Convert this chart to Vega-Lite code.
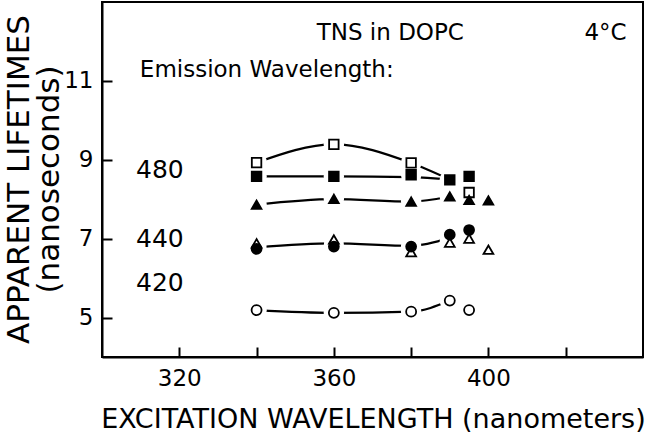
{
  "$schema": "https://vega.github.io/schema/vega-lite/v6.json",
  "width": 541,
  "height": 355,
  "autosize": {"type": "none"},
  "padding": {"left": 102, "top": 2, "right": 5, "bottom": 79},
  "background": "white",
  "config": {
    "font": "DejaVu Sans",
    "view": {"stroke": "black", "strokeWidth": 2}
  },
  "datasets": {
    "pts": [
      {"series": "sq_open", "x": 340, "y": 8.93},
      {"series": "sq_open", "x": 360, "y": 9.39},
      {"series": "sq_open", "x": 380, "y": 8.92},
      {"series": "sq_open", "x": 395, "y": 8.17},
      {"series": "sq_filled", "x": 340, "y": 8.58},
      {"series": "sq_filled", "x": 360, "y": 8.58},
      {"series": "sq_filled", "x": 380, "y": 8.62},
      {"series": "sq_filled", "x": 390, "y": 8.49},
      {"series": "sq_filled", "x": 395, "y": 8.58},
      {"series": "tri_filled", "x": 340, "y": 7.86},
      {"series": "tri_filled", "x": 360, "y": 8.01},
      {"series": "tri_filled", "x": 380, "y": 7.94},
      {"series": "tri_filled", "x": 390, "y": 8.07},
      {"series": "tri_filled", "x": 395, "y": 7.98},
      {"series": "tri_filled", "x": 400, "y": 7.97},
      {"series": "tri_open", "x": 340, "y": 6.88},
      {"series": "tri_open", "x": 360, "y": 6.98},
      {"series": "tri_open", "x": 380, "y": 6.66},
      {"series": "tri_open", "x": 390, "y": 6.9},
      {"series": "tri_open", "x": 395, "y": 7.0},
      {"series": "tri_open", "x": 400, "y": 6.72},
      {"series": "circ_filled", "x": 340, "y": 6.74},
      {"series": "circ_filled", "x": 360, "y": 6.8},
      {"series": "circ_filled", "x": 380, "y": 6.8},
      {"series": "circ_filled", "x": 390, "y": 7.1},
      {"series": "circ_filled", "x": 395, "y": 7.22},
      {"series": "circ_open", "x": 340, "y": 5.19},
      {"series": "circ_open", "x": 360, "y": 5.12},
      {"series": "circ_open", "x": 380, "y": 5.15},
      {"series": "circ_open", "x": 390, "y": 5.43},
      {"series": "circ_open", "x": 395, "y": 5.19}
    ],
    "curves": [
      {"series": "sq_open", "x": 340, "y": 8.93},
      {"series": "sq_open", "x": 360, "y": 9.39},
      {"series": "sq_open", "x": 380, "y": 8.92},
      {"series": "sq_open", "x": 390, "y": 8.5},
      {"series": "sq_filled", "x": 340, "y": 8.58},
      {"series": "sq_filled", "x": 360, "y": 8.58},
      {"series": "sq_filled", "x": 380, "y": 8.56},
      {"series": "sq_filled", "x": 390, "y": 8.5},
      {"series": "tri_filled", "x": 340, "y": 7.86},
      {"series": "tri_filled", "x": 360, "y": 8.0},
      {"series": "tri_filled", "x": 380, "y": 7.94},
      {"series": "tri_filled", "x": 390, "y": 8.07},
      {"series": "circ_filled", "x": 340, "y": 6.78},
      {"series": "circ_filled", "x": 360, "y": 6.88},
      {"series": "circ_filled", "x": 380, "y": 6.82},
      {"series": "circ_filled", "x": 390, "y": 7.02},
      {"series": "circ_open", "x": 340, "y": 5.19},
      {"series": "circ_open", "x": 360, "y": 5.12},
      {"series": "circ_open", "x": 380, "y": 5.15},
      {"series": "circ_open", "x": 390, "y": 5.43}
    ]
  },
  "encoding": {
    "x": {
      "field": "x",
      "type": "quantitative",
      "scale": {"domain": [300, 440], "nice": false, "zero": false},
      "axis": {
        "title": "EXCITATION WAVELENGTH (nanometers)",
        "values": [320, 340, 360, 380, 400, 420],
        "format": "d",
        "labelExpr": "datum.value % 40 == 0 ? datum.label : ''",
        "grid": false,
        "domainColor": "black",
        "domainWidth": 2,
        "tickColor": "black",
        "tickWidth": 2,
        "tickSize": -10,
        "labelFontSize": 23,
        "labelColor": "black",
        "labelPadding": 20,
        "labelFlush": false,
        "labelOverlap": false,
        "titleFontSize": 27,
        "titleFontWeight": "normal",
        "titleColor": "black",
        "titleBaseline": "middle",
        "titleY": 62,
        "titleX": 271
      }
    },
    "y": {
      "field": "y",
      "type": "quantitative",
      "scale": {"domain": [4, 13], "nice": false, "zero": false},
      "axis": {
        "title": ["APPARENT LIFETIMES", "(nanoseconds)"],
        "values": [5, 7, 9, 11],
        "format": "d",
        "grid": false,
        "domainColor": "black",
        "domainWidth": 2,
        "tickColor": "black",
        "tickWidth": 2,
        "tickSize": -10,
        "labelFontSize": 23,
        "labelColor": "black",
        "labelPadding": 19,
        "labelFlush": false,
        "labelOverlap": false,
        "titleFontSize": 31,
        "titleFontWeight": "normal",
        "titleColor": "black",
        "titleAngle": 270,
        "titleAlign": "center",
        "titleBaseline": "middle",
        "titleLineHeight": 30,
        "titleX": -83,
        "titleY": 177
      }
    }
  },
  "layer": [
    {
      "data": {"name": "curves"},
      "mark": {"type": "line", "interpolate": "monotone", "color": "black", "strokeWidth": 2.2},
      "encoding": {"detail": {"field": "series"}}
    },
    {
      "data": {"name": "pts"},
      "mark": {"type": "point", "shape": "circle", "filled": true, "color": "white", "size": 420, "opacity": 1}
    },
    {
      "data": {"name": "pts"},
      "mark": {"type": "point", "filled": true, "stroke": "black", "strokeWidth": 1.8, "opacity": 1},
      "encoding": {
        "shape": {
          "field": "series",
          "scale": {
            "domain": ["sq_open", "sq_filled", "tri_filled", "tri_open", "circ_filled", "circ_open"],
            "range": ["square", "square", "triangle-up", "triangle-up", "circle", "circle"]
          },
          "legend": null
        },
        "fill": {
          "field": "series",
          "scale": {
            "domain": ["sq_open", "sq_filled", "tri_filled", "tri_open", "circ_filled", "circ_open"],
            "range": ["white", "black", "black", "white", "black", "white"]
          },
          "legend": null
        },
        "size": {
          "field": "series",
          "type": "nominal",
          "scale": {
            "domain": ["sq_open", "sq_filled", "tri_filled", "tri_open", "circ_filled", "circ_open"],
            "range": [90, 100, 110, 100, 90, 60]
          },
          "legend": null
        },
        "stroke": {"value": "black"}
      }
    },
    {
      "data": {"values": [
        {"label": "TNS in DOPC", "x": 374.6, "y": 12.22},
        {"label": "4°C", "x": 430.3, "y": 12.22}
      ]},
      "mark": {"type": "text", "align": "center", "baseline": "middle", "fontSize": 23, "color": "black"},
      "encoding": {"text": {"field": "label"}}
    },
    {
      "data": {"values": [
        {"label": "Emission Wavelength:", "x": 309.8, "y": 11.28}
      ]},
      "mark": {"type": "text", "align": "left", "baseline": "middle", "fontSize": 23, "color": "black"},
      "encoding": {"text": {"field": "label"}}
    },
    {
      "data": {"values": [
        {"label": "480", "x": 308.8, "y": 8.73},
        {"label": "440", "x": 308.8, "y": 6.98},
        {"label": "420", "x": 308.8, "y": 5.88}
      ]},
      "mark": {"type": "text", "align": "left", "baseline": "middle", "fontSize": 25, "color": "black"},
      "encoding": {"text": {"field": "label"}}
    }
  ]
}
